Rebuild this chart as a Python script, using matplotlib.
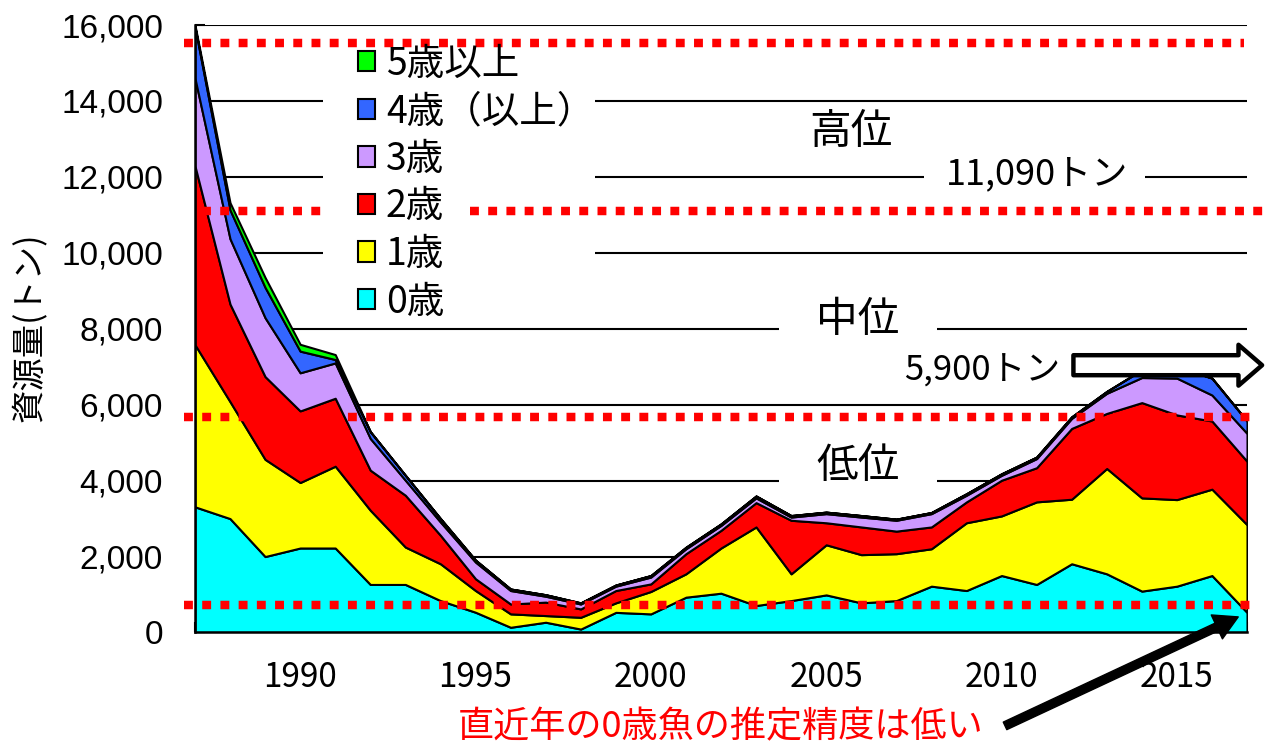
import numpy as np
import matplotlib.pyplot as plt
from matplotlib.patches import Patch
from matplotlib.ticker import FuncFormatter, MultipleLocator

plt.rcParams['font.family'] = ['Noto Sans CJK JP', 'DejaVu Sans']

#%% Daten (Ablesewerte aus der Vorlage, Tonnen je Altersklasse)
jahre = np.arange(1987, 2018)
alter0 = [3310, 3000, 2000, 2225, 2225, 1265, 1265, 840, 533, 137, 270, 90, 530, 490, 930, 1035,
          710, 840, 990, 780, 840, 1220, 1105, 1500, 1265, 1810, 1545, 1090, 1220, 1500, 530]
alter1 = [4270, 3080, 2560, 1725, 2155, 1955, 985, 970, 572, 353, 175, 310, 250, 590, 615, 1190,
          2070, 705, 1320, 1270, 1235, 985, 1785, 1570, 2175, 1700, 2775, 2455, 2280, 2275, 2310]
alter2 = [4710, 2570, 2180, 1885, 1790, 1055, 1365, 750, 310, 260, 355, 220, 325, 200, 530, 465,
          640, 1410, 580, 730, 595, 575, 550, 940, 900, 1865, 1450, 2510, 2230, 1795, 1670]
alter3 = [2310, 1720, 1550, 1005, 930, 835, 395, 350, 440, 355, 155, 130, 115, 180, 130, 130,
          125, 85, 240, 260, 285, 350, 175, 130, 240, 265, 530, 660, 970, 685, 735]
alter4 = [1350, 760, 800, 570, 90, 180, 130, 90, 50, 40, 40, 30, 30, 40, 40, 40,
          50, 40, 40, 40, 30, 30, 40, 40, 40, 40, 50, 200, 305, 445, 325]
alter5 = [50, 190, 260, 180, 130, 0, 0, 0, 0, 0, 0, 0, 0, 0, 0, 0,
          0, 0, 0, 0, 0, 0, 0, 0, 0, 0, 0, 0, 0, 0, 0]

namen = ['0歳', '1歳', '2歳', '3歳', '4歳（以上）', '5歳以上']
farben = ['#00FFFF', '#FFFF00', '#FF0000', '#CC99FF', '#3366FF', '#00FF00']

# Referenzniveaus (rot gepunktet)
grenz_werte = [15530, 11090, 5680, 720]

#%% Abbildung
fig = plt.figure(figsize=(12.66, 7.47), dpi=100)
ax = fig.add_axes([0.154, 0.1533, 0.831, 0.8132])

# Gitterlinien, unterbrochen fuer Legende und Beschriftungen
gitter = {
    16000: [(1987, 2017)],
    14000: [(1987, 1990.65), (1998.4, 2017)],
    12000: [(1987, 1990.65), (1998.4, 2007.8), (2014.1, 2017)],
    10000: [(1987, 1990.65), (1998.4, 2017)],
    8000: [(1987, 2003.65), (2008.15, 2017)],
    6000: [(1987, 2017)],
    4000: [(1987, 2003.65), (2008.15, 2017)],
    2000: [(1987, 2017)],
}
for yw, stuecke in gitter.items():
    for x0, x1 in stuecke:
        ax.hlines(yw, x0, x1, color='black', lw=1.5, zorder=1)

ax.stackplot(jahre, alter0, alter1, alter2, alter3, alter4, alter5,
             colors=farben, edgecolor='black', linewidth=1.5, zorder=2)

# rot gepunktete Linien
punkt = dict(color='red', lw=6.1, linestyle=(0, (1.05, 1.1)),
             dash_capstyle='butt', solid_capstyle='butt', clip_on=False, zorder=6)
ax.plot([1986.7, 2016.9], [grenz_werte[0]] * 2, **punkt)
ax.plot([1987.2, 1990.6], [grenz_werte[1]] * 2, **punkt)
ax.plot([1994.85, 2017.5], [grenz_werte[1]] * 2, **punkt)
ax.plot([1986.7, 2017.2], [grenz_werte[2]] * 2, **punkt)
ax.plot([1986.7, 2017.2], [grenz_werte[3]] * 2, **punkt)

# Achsen
ax.set_xlim(1987, 2017)
ax.set_ylim(0, 16000)
for s in ['top', 'right']:
    ax.spines[s].set_visible(False)
for s in ['left', 'bottom']:
    ax.spines[s].set_linewidth(1.8)
    ax.spines[s].set_zorder(7)

ax.yaxis.set_major_locator(MultipleLocator(2000))
ax.yaxis.set_major_formatter(FuncFormatter(lambda v, p: f'{int(v):,}'))
ax.xaxis.set_major_locator(MultipleLocator(1))
ax.xaxis.set_major_formatter(FuncFormatter(lambda v, p: f'{int(round(v))}' if int(round(v)) % 5 == 0 else ''))
ax.tick_params(axis='both', direction='in', length=7, width=1.5, colors='black')
ax.tick_params(axis='y', pad=23, labelsize=24)
ax.tick_params(axis='x', pad=20, labelsize=24)
for t in ax.get_yticklabels():
    t.set_family('Liberation Sans')

fig.text(0.024, 0.562, '資源量(トン)', rotation=90, ha='center', va='center', fontsize=24)

# Legende
griffe = [Patch(facecolor=f, edgecolor='black', lw=1.5) for f in farben][::-1]
leg = ax.legend(griffe, namen[::-1], loc='upper left', bbox_to_anchor=(0.155, 0.968),
                frameon=False, fontsize=27, handlelength=0.46, handleheight=0.46,
                handletextpad=0.28, labelspacing=0.23, borderpad=0, borderaxespad=0)
leg.set_zorder(8)

# Beschriftungen
ax.text(2005.7, 13170, '高位', fontsize=30, ha='center', va='center')
ax.text(2005.9, 8230, '中位', fontsize=30, ha='center', va='center')
ax.text(2005.9, 4370, '低位', fontsize=30, ha='center', va='center')
ax.text(2011.0, 12060, '11,090トン', fontsize=26, ha='center', va='center')
ax.text(2009.45, 6880, '5,900トン', fontsize=25, ha='center', va='center')

# Pfeile
ax.annotate('', xy=(2017.43, 7040), xytext=(2012.05, 7040), annotation_clip=False,
            arrowprops=dict(arrowstyle='simple,head_length=0.85,head_width=1.47,tail_width=0.72',
                            fc='white', ec='black', lw=3.2, mutation_scale=20,
                            shrinkA=0, shrinkB=0), zorder=9)
ax.annotate('', xy=(2016.75, 410), xytext=(2010.1, -2460), annotation_clip=False,
            arrowprops=dict(arrowstyle='simple,head_length=0.85,head_width=0.95,tail_width=0.3',
                            fc='black', ec='black', lw=1, mutation_scale=20,
                            shrinkA=0, shrinkB=0), zorder=9)

fig.text(0.5695, 0.027, '直近年の0歳魚の推定精度は低い', color='red', fontsize=26,
         ha='center', va='center')

plt.savefig('out.png', dpi=100)
plt.close()
